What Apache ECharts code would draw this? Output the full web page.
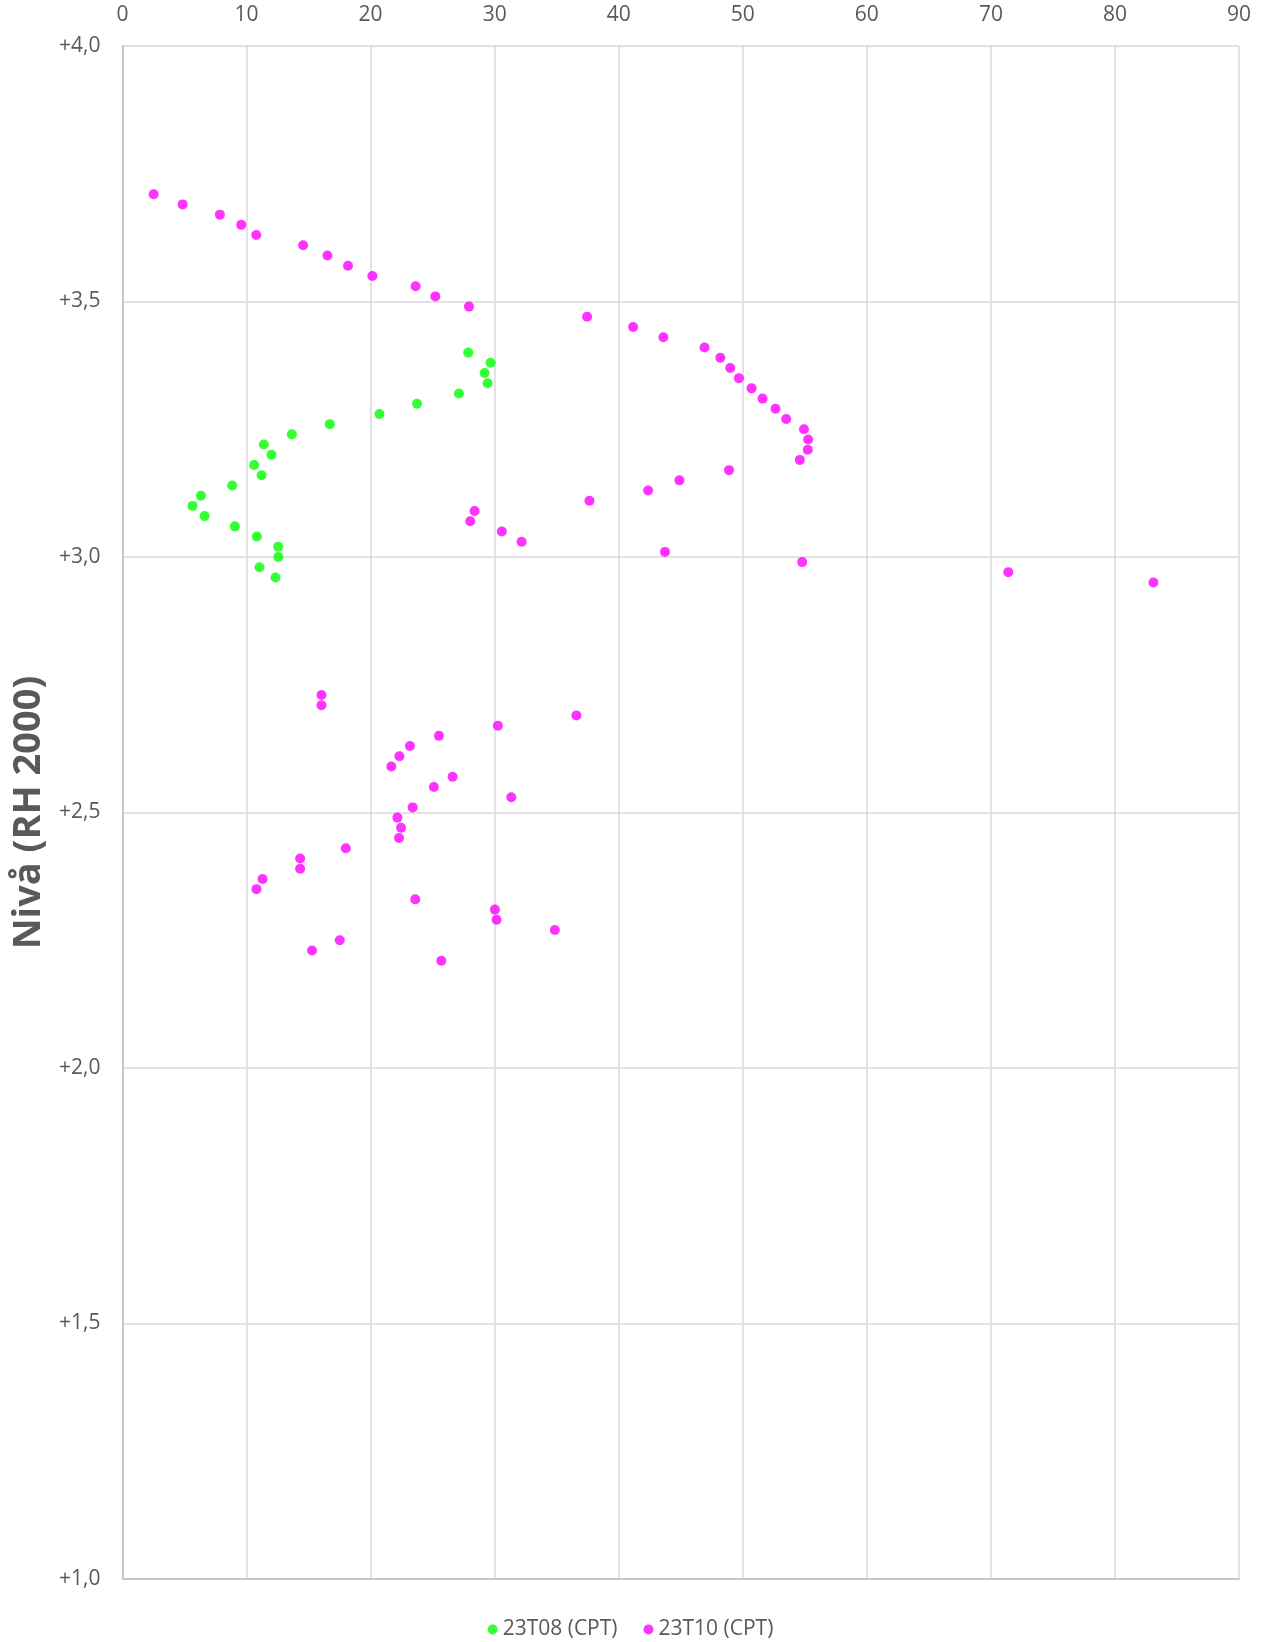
<!DOCTYPE html>
<html>
<head>
<meta charset="utf-8">
<script src="https://cdn.jsdelivr.net/npm/echarts@6/dist/echarts.min.js"></script>
<style>
html,body{margin:0;padding:0;background:#fff;}
#chart{width:1261px;height:1642px;}
</style>
</head>
<body>
<div id="chart"></div>
<script>
// X ticks: 0..90 step 10; Y ticks: +1,0 .. +4,0 step 0,5
const seriesNames = ['23T08 (CPT)', '23T10 (CPT)'];

const t08_x = [27.87, 29.67, 29.19, 29.43, 27.12, 23.74, 20.71, 16.71, 13.65, 11.39, 12.01, 10.61, 11.21, 8.84, 6.32, 5.65, 6.62, 9.06, 10.83, 12.55, 12.56, 11.04, 12.33];
const t08_y = [3.40, 3.38, 3.36, 3.34, 3.32, 3.30, 3.28, 3.26, 3.24, 3.22, 3.20, 3.18, 3.16, 3.14, 3.12, 3.10, 3.08, 3.06, 3.04, 3.02, 3.00, 2.98, 2.96];

const t10_x = [2.51, 4.85, 7.85, 9.57, 10.78, 14.56, 16.52, 18.18, 20.14, 23.63, 25.22, 27.93, 37.45, 41.16, 43.6, 46.92, 48.19, 48.99, 49.69, 50.71, 51.59, 52.64, 53.5, 54.93, 55.27, 55.24, 54.6, 48.89, 44.89, 42.37, 37.64, 28.38, 28.03, 30.58, 32.17, 43.73, 54.79, 71.4, 83.1,
  16.04, 16.04, 36.59, 30.26, 25.51, 23.17, 22.32, 21.67, 26.61, 25.1, 31.34, 23.39, 22.16, 22.45, 22.29, 18.0, 14.32, 14.32, 11.29, 10.8, 23.6, 30.02, 30.15, 34.85, 17.51, 15.28, 25.7];
const t10_y = [3.71, 3.69, 3.67, 3.65, 3.63, 3.61, 3.59, 3.57, 3.55, 3.53, 3.51, 3.49, 3.47, 3.45, 3.43, 3.41, 3.39, 3.37, 3.35, 3.33, 3.31, 3.29, 3.27, 3.25, 3.23, 3.21, 3.19, 3.17, 3.15, 3.13, 3.11, 3.09, 3.07, 3.05, 3.03, 3.01, 2.99, 2.97, 2.95,
  2.73, 2.71, 2.69, 2.67, 2.65, 2.63, 2.61, 2.59, 2.57, 2.55, 2.53, 2.51, 2.49, 2.47, 2.45, 2.43, 2.41, 2.39, 2.37, 2.35, 2.33, 2.31, 2.29, 2.27, 2.25, 2.23, 2.21];

const yTitle = 'Nivå (RH 2000)';

function pairs(xs, ys){ return xs.map((x,i)=>[x, ys[i]]); }

const font = '"Open Sans", "Noto Sans", sans-serif';
const grey = '#595959';
const gridCol = '#d9d9d9';

const chart = echarts.init(document.getElementById('chart'), null, {renderer:'canvas'});
chart.setOption({
  animation: false,
  backgroundColor: '#fff',
  grid: {left: 122.5, right: 22, top: 46, bottom: 63, containLabel: false},
  legend: {
    bottom: -3, left: 'center',
    icon: 'circle', itemWidth: 10, itemHeight: 10, itemGap: 26,
    textStyle: {color: grey, fontSize: 21, fontFamily: font},
    data: seriesNames
  },
  xAxis: [{
    type: 'value', position: 'top', min: 0, max: 90, interval: 10,
    axisLine: {show: false}, axisTick: {show: false},
    axisLabel: {color: grey, fontSize: 21, fontFamily: font, margin: 20},
    splitLine: {show: true, lineStyle: {color: gridCol, width: 1.5}}
  }, {
    type: 'value', position: 'bottom', min: 0, max: 90, interval: 10,
    axisLine: {show: true, onZero: false, lineStyle: {color: '#c8c8c8', width: 2}},
    axisTick: {show: false}, axisLabel: {show: false}, splitLine: {show: false}
  }],
  yAxis: {
    type: 'value', min: 1, max: 4, interval: 0.5,
    name: yTitle, nameLocation: 'middle', nameGap: 72, nameRotate: 90,
    nameTextStyle: {color: grey, fontSize: 38, fontWeight: 'bold', fontFamily: font},
    axisLine: {show: true, onZero: false, lineStyle: {color: '#c8c8c8', width: 2}},
    axisTick: {show: false},
    axisLabel: {color: grey, fontSize: 21, fontFamily: font, margin: 22,
      formatter: v => '+' + v.toFixed(1).replace('.', ',')},
    splitLine: {show: true, lineStyle: {color: gridCol, width: 1.5}}
  },
  series: [{
    name: seriesNames[0], type: 'scatter', xAxisIndex: 0,
    symbol: 'circle', symbolSize: 10,
    itemStyle: {color: '#00ff00'},
    data: pairs(t08_x, t08_y)
  }, {
    name: seriesNames[1], type: 'scatter', xAxisIndex: 0,
    symbol: 'circle', symbolSize: 10,
    itemStyle: {color: '#ff00ff'},
    data: pairs(t10_x, t10_y)
  }]
});
</script>
</body>
</html>
